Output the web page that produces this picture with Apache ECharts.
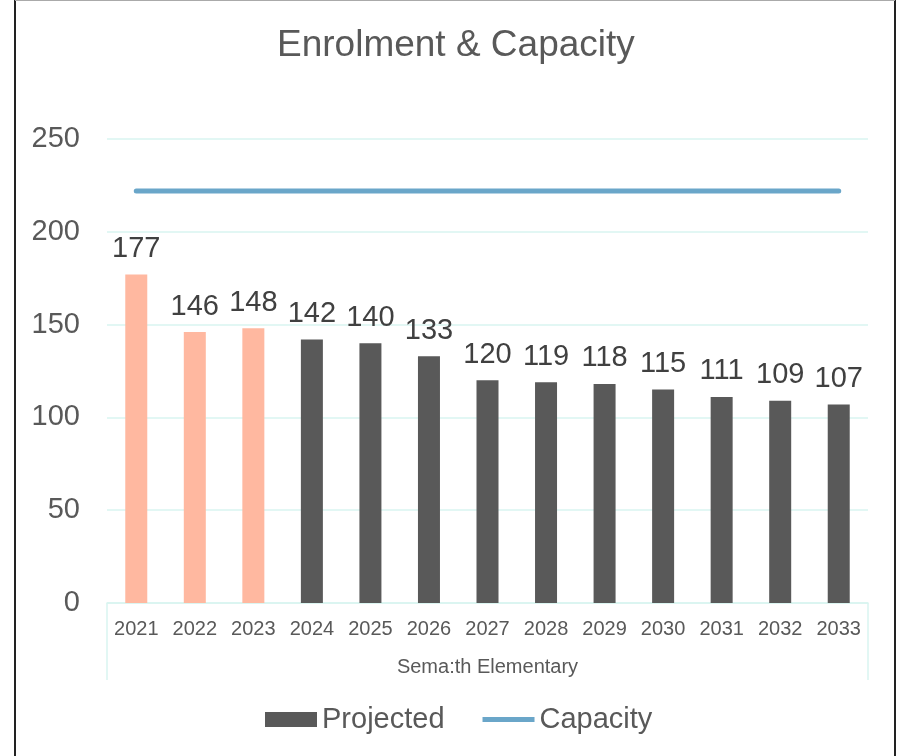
<!DOCTYPE html>
<html><head><meta charset="utf-8">
<script src="https://cdn.jsdelivr.net/npm/echarts@6/dist/echarts.min.js"></script>
<style>html,body{margin:0;padding:0;background:#fff}#c{width:898px;height:756px}</style>
</head><body><div id="c"></div>
<script>
const categories = ['2021','2022','2023','2024','2025','2026','2027','2028','2029','2030','2031','2032','2033'];
const projected = [177,146,148,142,140,133,120,119,118,115,111,109,107];
const capacity = [222,222,222,222,222,222,222,222,222,222,222,222,222];
const actualCount = 3;
const yTicks = [0,50,100,150,200,250];

const chart = echarts.init(document.getElementById('c'));
const G = {left:107, right:30, top:139, bottom:153};
const font = 'Liberation Sans, Arial, sans-serif';
chart.setOption({
  backgroundColor:'#fff',
  animation:false,
  title:{text:'Enrolment & Capacity', left:272, top:22, textStyle:{fontFamily:font, fontSize:37, fontWeight:'normal', color:'#595959'}},
  legend:{top:700, left:260, itemGap:38, itemWidth:52, itemHeight:15,
    textStyle:{fontFamily:font, fontSize:29, color:'#595959'},
    data:[{name:'Projected', icon:'rect'}, {name:'Capacity', icon:'path://M0,0 M0,5 L54,5 L54,10 L0,10 Z M54,15'}]},
  grid:{left:G.left, right:G.right, top:G.top, bottom:G.bottom, containLabel:false},
  xAxis:{type:'category', data:categories, boundaryGap:true,
    axisLine:{lineStyle:{color:'#d9f5f0', width:1.5}}, axisTick:{show:false},
    axisLabel:{fontFamily:font, fontSize:20, color:'#595959', margin:16},
    name:'Sema:th Elementary', nameLocation:'middle', nameGap:54,
    nameTextStyle:{fontFamily:font, fontSize:20, color:'#595959'}},
  yAxis:{type:'value', min:0, max:250, interval:50,
    axisLine:{show:false}, axisTick:{show:false},
    axisLabel:{fontFamily:font, fontSize:29, color:'#595959', margin:27, formatter:v=>yTicks.includes(v)?String(v):''},
    splitLine:{lineStyle:{color:'#d9f5f0', width:1.5}}},
  series:[
    {name:'Projected', type:'bar', barWidth:22, itemStyle:{color:'#595959'},
      data:projected.map((v,i)=>({value:v, itemStyle:{color:i<actualCount?'#ffb8a0':'#595959'}})),
      label:{show:true, position:'top', distance:11, fontFamily:font, fontSize:29, color:'#404040'}},
    {name:'Capacity', type:'line', data:capacity, symbol:'none', showSymbol:false,
      lineStyle:{color:'#6aa6c9', width:5, cap:'round'}, itemStyle:{color:'#6aa6c9'}}
  ]
});
const w=898,h=756;
const x0=G.left, x1=w-G.right, yb=h-G.bottom;
chart.setOption({graphic:[
  {type:'line', shape:{x1:x0,y1:yb,x2:x0,y2:yb+77}, style:{stroke:'#d9f5f0', lineWidth:1.5}},
  {type:'line', shape:{x1:x1,y1:yb,x2:x1,y2:yb+77}, style:{stroke:'#d9f5f0', lineWidth:1.5}},
  {type:'line', shape:{x1:15,y1:0,x2:15,y2:h}, style:{stroke:'#222', lineWidth:2}},
  {type:'line', shape:{x1:895,y1:0,x2:895,y2:h}, style:{stroke:'#222', lineWidth:2}},
  {type:'line', shape:{x1:15,y1:0.5,x2:895,y2:0.5}, style:{stroke:'#aaa', lineWidth:1}}
]});
</script></body></html>
